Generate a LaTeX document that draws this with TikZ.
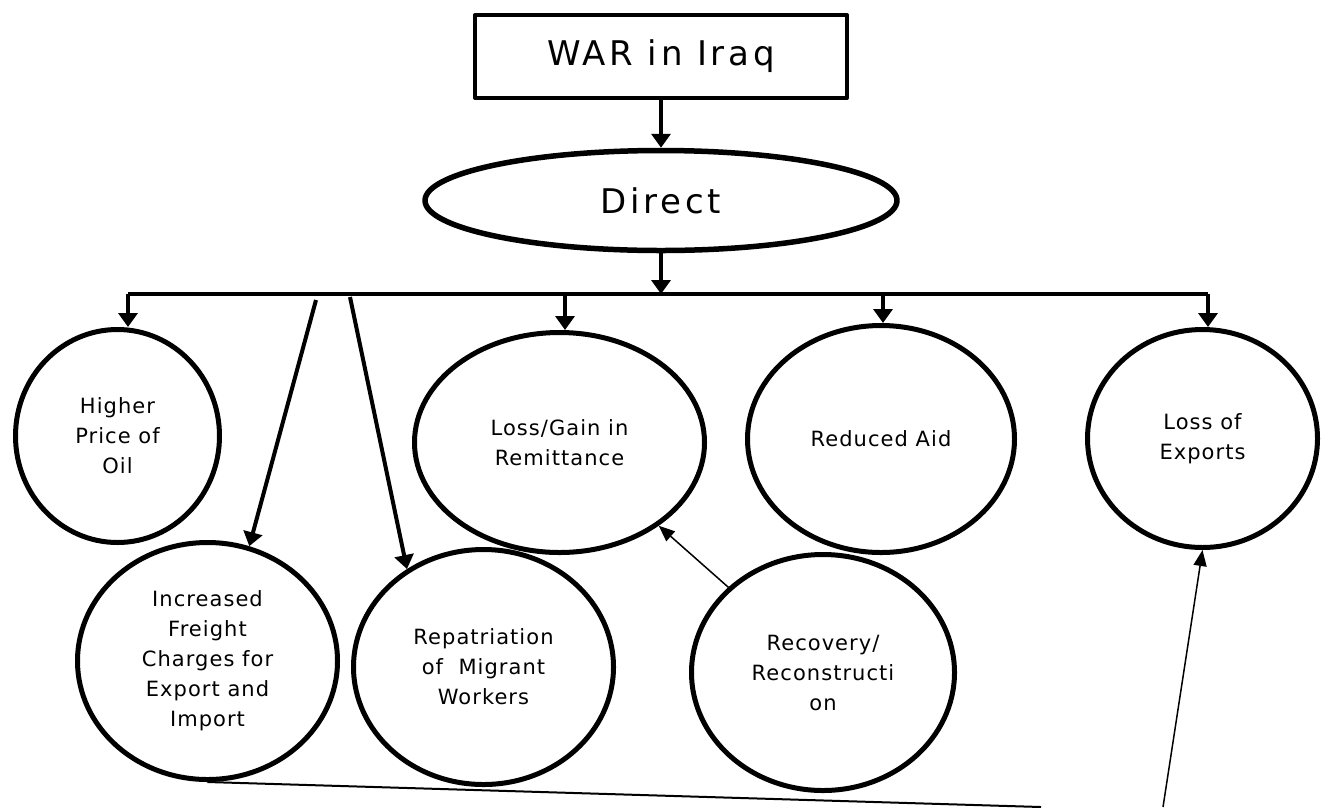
\documentclass[tikz,border=0pt]{standalone}
\usepackage{fontspec}
\setmainfont{DejaVu Sans}[LetterSpace=5]
\newfontfamily\bigfam{DejaVu Sans}[LetterSpace=11]
\usetikzlibrary{arrows.meta,shapes.geometric}
\begin{document}
\begin{tikzpicture}[x=1pt,y=-1pt,line join=round]
  \tikzset{bubble/.style={ellipse,draw,line width=5pt,inner sep=0pt,align=center,font=\fontsize{21pt}{30pt}\selectfont},
    bigfont/.style={font=\bigfam\fontsize{34pt}{40pt}\selectfont},
    thickarrow/.style={line width=4pt,-{Triangle[length=14pt,width=19pt]}},
    thinarrow/.style={line width=1.5pt,-{Triangle[length=16pt,width=13pt]}}}
  \useasboundingbox (0,0) rectangle (1321,807);
  \node[draw,line width=4pt,minimum width=372pt,minimum height=83pt,bigfont] (war) at (661,56.5) {WAR in Iraq};
  \node[ellipse,draw,line width=5.5pt,minimum width=472pt,minimum height=100pt,bigfont] (direct) at (661,200.5) {Direct};
  % upper row
  \node[bubble,minimum width=204pt,minimum height=213pt] (oil) at (117.5,436) {Higher\\Price of\\Oil};
  \node[bubble,minimum width=290pt,minimum height=220pt] (remit) at (559.5,442.5) {Loss/Gain in\\Remittance};
  \node[bubble,minimum width=267pt,minimum height=227pt] (aid) at (881,439) {Reduced Aid};
  \node[bubble,minimum width=230pt,minimum height=218pt] (exports) at (1202.5,438.5) {Loss of\\Exports};
  % lower row
  \node[bubble,minimum width=260pt,minimum height=237pt] (freight) at (207.5,661) {Increased\\Freight\\Charges for\\Export and\\Import};
  \node[bubble,minimum width=260pt,minimum height=235pt] (repat) at (483.5,667) {Repatriation\\of~ Migrant\\Workers};
  \node[bubble,minimum width=263pt,minimum height=236pt] (recov) at (823,672.5) {Recovery/\\Reconstructi\\on};
  % bus
  \coordinate (busW) at (128,294); \coordinate (busE) at (1208,294);
  \coordinate (d2) at (565,294); \coordinate (d3) at (883,294);
  \coordinate (s1) at (316,300); \coordinate (s2) at (350,297);
  \coordinate (botL) at (1041,807); \coordinate (botR) at (1163,807);
  \draw[thickarrow] (war) -- (direct);
  \draw[thickarrow] (direct.south) -- (direct.south |- busW);
  \draw[line width=4pt] (busW) -- (busE);
  \draw[thickarrow] (busW) -- (busW |- oil.north);
  \draw[thickarrow] (d2) -- (d2 |- remit.north);
  \draw[thickarrow] (d3) -- (d3 |- aid.north);
  \draw[thickarrow] (busE) -- (busE |- exports.north);
  \draw[thickarrow] (s1) -- (freight.70);
  \draw[thickarrow] (s2) -- (repat.128);
  \draw[thinarrow] (recov.138) -- (remit.320);
  \draw[line width=2pt] (freight.south) -- (botL);
  \draw[thinarrow] (botR) -- (exports.south);
\end{tikzpicture}
\end{document}
